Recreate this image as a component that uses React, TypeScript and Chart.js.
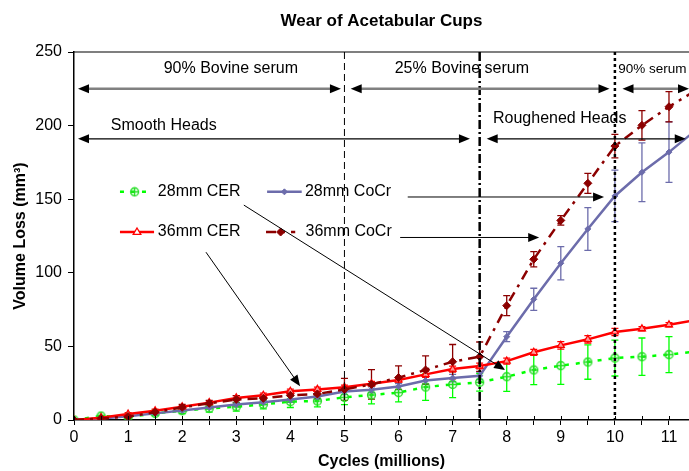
import React, { useEffect, useRef } from 'react';
import { Chart, registerables } from 'chart.js';
Chart.register(...registerables);

const FONT = 'Arial, "Liberation Sans", Helvetica, sans-serif';

// ---- data ----
const cycles = [0, 0.5, 1, 1.5, 2, 2.5, 3, 3.5, 4, 4.5, 5, 5.5, 6, 6.5, 7, 7.5, 8, 8.5, 9, 9.5, 10, 10.5, 11, 11.5];
const cer28 = [0, 2.7, 2, 4.5, 6.3, 7.9, 9, 10.6, 12.5, 12.9, 15.4, 17, 18.6, 22.4, 24.2, 25.6, 29.4, 34, 36.9, 39.4, 42.1, 43, 44.4, 46.5];
const cer28Err = [0, 0.5, 1, 1.5, 2, 2.5, 3, 3, 4, 4, 5, 6, 6.3, 9, 9, 6, 10, 10, 12.7, 11.7, 12.2, 12.7, 12.2, 12];
const cocr28 = [0, 1, 2.5, 4.5, 6.5, 8.5, 10.5, 12, 14, 16, 19.3, 20.5, 22.7, 26.8, 28.5, 30, 56.6, 82, 106.5, 129.8, 152.2, 168.3, 182, 197];
const cocr28Err = [0, 0.5, 0.5, 1, 1, 1, 1.5, 1.5, 2, 2, 2, 2, 2, 2.5, 2.5, 2.5, 3.4, 7.5, 11.3, 14.5, 17.5, 20, 20.6, 20];
const cer36 = [0, 1.6, 4, 6.3, 9, 11.8, 15, 16.8, 19.5, 20.8, 22.2, 24.7, 27.2, 31, 34.6, 36.7, 40, 46, 50.7, 54.8, 59.8, 62, 64.7, 68];
const cer36Err = [0, 0.5, 1, 1, 1, 1, 1.5, 1.5, 1.5, 1.5, 1.5, 1.5, 1.5, 2, 2, 2, 2, 2, 2.5, 2.5, 2.5, 1.5, 1.5, 1.5];
const cocr36 = [0, 1, 2.3, 5.4, 8.6, 11.3, 14, 14.7, 16.8, 17.7, 20.8, 24.2, 28.8, 34, 39.6, 43, 77.7, 109.2, 135.6, 160.8, 186.1, 200.2, 212.8, 224];
const cocr36Err = [0, 0.5, 1, 1, 2, 2, 2.5, 2.5, 3, 3, 7.5, 10, 8, 9.6, 11.7, 10, 6.8, 5.2, 3.2, 6.8, 8, 10, 10.3, 10];

const seriesLabels = ['28mm CER', '28mm CoCr', '36mm CER', '36mm CoCr'];
const xMin = 0;
const xMax = 11.37;
const yMin = 0;
const yMax = 250;

const GREEN = '#00ff00';
const SLATE = '#6c6cab';
const RED = '#ff0000';
const DARKRED = '#8c0000';

function makeCircleCross(color: string) {
  const c = document.createElement('canvas');
  c.width = 11; c.height = 11;
  const g = c.getContext('2d')!;
  g.strokeStyle = color; g.lineWidth = 1.3;
  g.beginPath(); g.arc(5.5, 5.5, 4, 0, Math.PI * 2); g.stroke();
  g.beginPath(); g.moveTo(5.5, 1.5); g.lineTo(5.5, 9.5); g.moveTo(1.5, 5.5); g.lineTo(9.5, 5.5); g.stroke();
  return c;
}

function arrowHead(ctx: CanvasRenderingContext2D, x: number, y: number, ang: number, len: number, half: number, color: string) {
  ctx.save();
  ctx.translate(x, y); ctx.rotate(ang);
  ctx.beginPath(); ctx.moveTo(0, 0); ctx.lineTo(-len, -half); ctx.lineTo(-len, half); ctx.closePath();
  ctx.fillStyle = color; ctx.fill();
  ctx.restore();
}

function arrow(ctx: CanvasRenderingContext2D, x1: number, y1: number, x2: number, y2: number, opts: any) {
  const { color = '#000', headColor = '#000', width = 1, len = 10, half = 4, both = false } = opts;
  const ang = Math.atan2(y2 - y1, x2 - x1);
  const dx = Math.cos(ang) * len * 0.8, dy = Math.sin(ang) * len * 0.8;
  ctx.save();
  ctx.strokeStyle = color; ctx.lineWidth = width; ctx.setLineDash([]);
  ctx.beginPath();
  ctx.moveTo(both ? x1 + dx : x1, both ? y1 + dy : y1);
  ctx.lineTo(x2 - dx, y2 - dy);
  ctx.stroke();
  ctx.restore();
  arrowHead(ctx, x2, y2, ang, len, half, headColor);
  if (both) arrowHead(ctx, x1, y1, ang + Math.PI, len, half, headColor);
}

function drawMarker(ctx: CanvasRenderingContext2D, ds: any, x: number, y: number) {
  const style = ds.pointStyle;
  const r = ds.pointRadius;
  ctx.save();
  ctx.setLineDash([]);
  if (typeof style !== 'string') {
    ctx.drawImage(style, x - style.width / 2, y - style.height / 2);
  } else if (style === 'triangle') {
    ctx.strokeStyle = ds.pointBorderColor; ctx.lineWidth = ds.pointBorderWidth;
    ctx.beginPath();
    ctx.moveTo(x, y - r); ctx.lineTo(x + r * 0.95, y + r * 0.6); ctx.lineTo(x - r * 0.95, y + r * 0.6); ctx.closePath();
    ctx.fillStyle = '#fff'; ctx.fill(); ctx.stroke();
  } else {
    ctx.fillStyle = ds.pointBackgroundColor; ctx.strokeStyle = ds.pointBorderColor; ctx.lineWidth = ds.pointBorderWidth;
    ctx.beginPath();
    ctx.moveTo(x, y - r); ctx.lineTo(x + r, y); ctx.lineTo(x, y + r); ctx.lineTo(x - r, y); ctx.closePath();
    ctx.fill(); ctx.stroke();
  }
  ctx.restore();
}

const annotPlugin = {
  id: 'annot',
  beforeDatasetsDraw(chart: any) {
    const { ctx, chartArea: a, scales } = chart;
    const xs = scales.x, ys = scales.y;
    ctx.save();
    ctx.beginPath(); ctx.rect(a.left, a.top - 2, a.right - a.left, a.bottom - a.top + 4); ctx.clip();
    chart.data.datasets.forEach((ds: any) => {
      const err: number[] = ds.errors;
      ctx.strokeStyle = ds.errColor || ds.borderColor;
      ctx.lineWidth = 1.3;
      ctx.setLineDash([]);
      ds.data.forEach((p: any, i: number) => {
        const e = err[i];
        if (!e) return;
        const x = xs.getPixelForValue(p.x);
        const y1 = ys.getPixelForValue(p.y + e);
        const y2 = ys.getPixelForValue(p.y - e);
        ctx.beginPath();
        ctx.moveTo(x, y1); ctx.lineTo(x, y2);
        ctx.moveTo(x - 3.5, y1); ctx.lineTo(x + 3.5, y1);
        ctx.moveTo(x - 3.5, y2); ctx.lineTo(x + 3.5, y2);
        ctx.stroke();
      });
    });
    ctx.restore();
  },
  afterDatasetsDraw(chart: any) {
    const { ctx, chartArea: a, scales } = chart;
    const xs = scales.x, ys = scales.y;
    const px = (v: number) => xs.getPixelForValue(v);
    const py = (v: number) => ys.getPixelForValue(v);

    ctx.save();
    // top frame line
    ctx.strokeStyle = '#000'; ctx.lineWidth = 1.2; ctx.setLineDash([]);
    ctx.beginPath(); ctx.moveTo(a.left, a.top); ctx.lineTo(a.right, a.top); ctx.stroke();
    // x tick marks crossing the axis (inner part)
    ctx.lineWidth = 1;
    xs.ticks.forEach((t: any) => {
      const x = Math.round(px(t.value)) + 0.5;
      ctx.beginPath(); ctx.moveTo(x, a.bottom); ctx.lineTo(x, a.bottom - 4); ctx.stroke();
    });

    // vertical phase lines
    const vlines = [
      { x: 5, dash: [7, 4], w: 1 },
      { x: 7.5, dash: [9, 3, 2, 3], w: 2.5 },
      { x: 10, dash: [3, 3], w: 2.5 },
    ];
    vlines.forEach((v) => {
      ctx.strokeStyle = '#000'; ctx.lineWidth = v.w; ctx.setLineDash(v.dash);
      ctx.beginPath(); ctx.moveTo(px(v.x), a.top); ctx.lineTo(px(v.x), a.bottom); ctx.stroke();
    });
    ctx.setLineDash([]);

    // serum arrows (grey)
    const gy = py(225);
    [[0.074, 4.935], [5.115, 9.9], [10.14, 11.37]].forEach(([s, e]) => {
      arrow(ctx, px(s), gy, px(e), gy, { color: '#808080', headColor: '#000', width: 2.5, len: 11, half: 4.5, both: true });
    });
    // head arrows (black)
    const by = py(191);
    [[0.074, 7.32], [7.63, 11.31]].forEach(([s, e]) => {
      arrow(ctx, px(s), by, px(e), by, { color: '#000', headColor: '#000', width: 1.2, len: 11, half: 4.5, both: true });
    });

    // texts
    ctx.fillStyle = '#000';
    ctx.textBaseline = 'middle';
    ctx.font = `16px ${FONT}`;
    ctx.textAlign = 'center';
    ctx.fillText('90% Bovine serum', px(2.9), py(238.5));
    ctx.fillText('25% Bovine serum', px(7.17), py(238.5));
    ctx.fillText('Smooth Heads', px(1.66), py(200));
    ctx.fillText('Roughened Heads', px(8.98), py(204.5));
    ctx.textAlign = 'left';
    ctx.font = `13.5px ${FONT}`;
    ctx.fillText('90% serum', px(10.06), py(238.5));

    // legend
    const ds = chart.data.datasets;
    const leg = [
      { i: 0, x1: 0.85, x2: 1.39, tx: 1.55, y: 155 },
      { i: 1, x1: 3.57, x2: 4.21, tx: 4.27, y: 155 },
      { i: 2, x1: 0.85, x2: 1.48, tx: 1.55, y: 127.7 },
      { i: 3, x1: 3.55, x2: 4.09, tx: 4.28, y: 127.7 },
    ];
    ctx.font = `16px ${FONT}`;
    leg.forEach((l) => {
      const d = ds[l.i];
      const y = py(l.y);
      ctx.save();
      ctx.strokeStyle = d.borderColor; ctx.lineWidth = d.borderWidth; ctx.setLineDash(d.borderDash || []);
      ctx.beginPath(); ctx.moveTo(px(l.x1), y); ctx.lineTo(px(l.x2), y); ctx.stroke();
      ctx.restore();
      drawMarker(ctx, d, (px(l.x1) + px(l.x2)) / 2, y);
      ctx.fillStyle = '#000';
      ctx.fillText(d.label, px(l.tx), y);
    });

    // pointer arrows
    arrow(ctx, px(3.14), py(146), px(7.97), py(34), { width: 1, len: 11, half: 4.5 });
    arrow(ctx, px(2.44), py(114), px(4.18), py(23), { width: 1, len: 11, half: 4.5 });
    arrow(ctx, px(6.17), py(151.5), px(9.8), py(151.5), { width: 1, len: 11, half: 4.5 });
    arrow(ctx, px(6.03), py(124), px(8.6), py(124), { width: 1, len: 11, half: 4.5 });
    ctx.restore();
  },
};

export default function App() {
  const ref = useRef<HTMLCanvasElement>(null);
  useEffect(() => {
    const pts = (ys: number[]) => cycles.map((x, i) => ({ x, y: ys[i] }));
    const chart = new Chart(ref.current!, {
      type: 'line',
      data: {
        datasets: [
          {
            label: seriesLabels[0], data: pts(cer28), errors: cer28Err,
            borderColor: GREEN, borderWidth: 2.5, borderDash: [4, 7],
            pointStyle: makeCircleCross('#22dd22'), pointRadius: 4,
            pointBackgroundColor: 'rgba(0,0,0,0)', pointBorderColor: GREEN, pointBorderWidth: 1.3,
            order: 4,
          } as any,
          {
            label: seriesLabels[1], data: pts(cocr28), errors: cocr28Err,
            borderColor: SLATE, borderWidth: 2.5,
            pointStyle: 'rectRot', pointRadius: 3,
            pointBackgroundColor: SLATE, pointBorderColor: SLATE, pointBorderWidth: 1,
            order: 3,
          } as any,
          {
            label: seriesLabels[2], data: pts(cer36), errors: cer36Err,
            borderColor: RED, borderWidth: 2.5,
            pointStyle: 'triangle', pointRadius: 4,
            pointBackgroundColor: 'rgba(255,255,255,0.6)', pointBorderColor: RED, pointBorderWidth: 1.3,
            order: 2,
          } as any,
          {
            label: seriesLabels[3], data: pts(cocr36), errors: cocr36Err,
            borderColor: DARKRED, borderWidth: 2.5, borderDash: [10, 6, 3, 6],
            pointStyle: 'rectRot', pointRadius: 4,
            pointBackgroundColor: DARKRED, pointBorderColor: DARKRED, pointBorderWidth: 1,
            order: 1,
          } as any,
        ],
      },
      options: {
        animation: false,
        responsive: false,
        devicePixelRatio: 1,
        layout: { padding: 0, autoPadding: false },
        plugins: {
          legend: { display: false },
          tooltip: { enabled: false },
          title: {
            display: true, text: 'Wear of Acetabular Cups', color: '#000', fullSize: false,
            font: { family: FONT, size: 17, weight: 'bold' },
            padding: { top: 11, bottom: 20.6 },
          },
        },
        scales: {
          x: {
            type: 'linear', min: xMin, max: xMax,
            afterFit: (s: any) => { s.height = 51; },
            ticks: {
              stepSize: 0.5, includeBounds: false, autoSkip: false, maxRotation: 0, padding: 3,
              color: '#000', font: { family: FONT, size: 16 },
              callback: (v: any) => (Number.isInteger(v) ? String(v) : ''),
            },
            grid: { display: true, drawOnChartArea: false, drawTicks: true, tickLength: 5, color: '#000', lineWidth: 1 },
            border: { display: true, color: '#000', width: 1.5 },
            title: { display: true, text: 'Cycles (millions)', color: '#000', font: { family: FONT, size: 16, weight: 'bold' }, padding: { top: 0, bottom: 0 } },
          },
          y: {
            type: 'linear', min: yMin, max: yMax,
            afterFit: (s: any) => { s.width = 74; },
            ticks: { stepSize: 50, padding: 6, color: '#000', font: { family: FONT, size: 16 } },
            grid: { display: true, drawOnChartArea: false, drawTicks: true, tickLength: 6, color: '#000', lineWidth: 1 },
            border: { display: true, color: '#000', width: 1.5 },
            title: { display: true, text: 'Volume Loss (mm³)', color: '#000', font: { family: FONT, size: 16, weight: 'bold' }, padding: { top: 11, bottom: 0 } },
          },
        },
      },
      plugins: [annotPlugin],
    } as any);
    return () => chart.destroy();
  }, []);
  return (
    <div style={{ position: 'fixed', left: 0, top: 0, width: 689, height: 471, background: '#fff' }}>
      <canvas ref={ref} width={689} height={471} style={{ display: 'block', width: 689, height: 471 }} />
    </div>
  );
}
